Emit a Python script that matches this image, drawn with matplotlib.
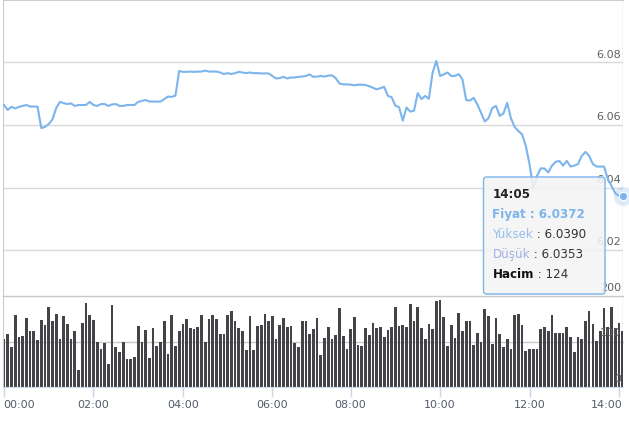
import numpy as np
import pandas as pd
import matplotlib
matplotlib.use("Agg")
import matplotlib.pyplot as plt
import matplotlib.transforms as mtransforms
from matplotlib.patches import FancyBboxPatch

plt.rcParams['font.family'] = ['DejaVu Sans']

#======data (5 min bars, 07:00-07:10 missing)=========#
times = pd.date_range("2019-01-01 00:00", "2019-01-01 14:05", freq="5min")
times = times[~((times >= "2019-01-01 07:00") & (times <= "2019-01-01 07:10"))]
time_labels = [t.strftime("%H:%M") for t in times]

price = [6.0664, 6.0648, 6.0658, 6.0653, 6.0658, 6.0661, 6.0664, 6.0659, 6.0659, 6.0659,
         6.0590, 6.0594, 6.0603, 6.0618, 6.0654, 6.0674, 6.0670, 6.0667, 6.0669, 6.0661,
         6.0664, 6.0664, 6.0664, 6.0674, 6.0664, 6.0661, 6.0667, 6.0667, 6.0661, 6.0666,
         6.0667, 6.0661, 6.0661, 6.0664, 6.0664, 6.0664, 6.0674, 6.0677, 6.0680, 6.0675,
         6.0675, 6.0675, 6.0675, 6.0683, 6.0691, 6.0690, 6.0694, 6.0773, 6.0770, 6.0770,
         6.0771, 6.0770, 6.0771, 6.0771, 6.0774, 6.0771, 6.0771, 6.0771, 6.0768, 6.0763,
         6.0766, 6.0763, 6.0766, 6.0770, 6.0768, 6.0766, 6.0768, 6.0766, 6.0766, 6.0765,
         6.0765, 6.0765, 6.0757, 6.0749, 6.0750, 6.0754, 6.0749, 6.0752, 6.0752, 6.0754,
         6.0755, 6.0757, 6.0762, 6.0754, 6.0755, 6.0757, 6.0755, 6.0758, 6.0759, 6.0750,
         6.0733, 6.0730, 6.0730, 6.0729, 6.0727, 6.0729, 6.0729, 6.0728, 6.0724, 6.0719,
         6.0714, 6.0718, 6.0722, 6.0693, 6.0689, 6.0662, 6.0657, 6.0614, 6.0656, 6.0643,
         6.0646, 6.0702, 6.0683, 6.0693, 6.0684, 6.0768, 6.0805, 6.0757, 6.0762, 6.0768,
         6.0757, 6.0757, 6.0763, 6.0746, 6.0680, 6.0678, 6.0687, 6.0666, 6.0639, 6.0611,
         6.0622, 6.0654, 6.0661, 6.0629, 6.0637, 6.0671, 6.0622, 6.0594, 6.0581, 6.0570,
         6.0533, 6.0475, 6.0398, 6.0437, 6.0461, 6.0461, 6.0448, 6.0469, 6.0482, 6.0485,
         6.0470, 6.0485, 6.0467, 6.0470, 6.0475, 6.0501, 6.0514, 6.0501, 6.0475, 6.0467,
         6.0467, 6.0467, 6.0427, 6.0405, 6.0382, 6.0373, 6.0372]

volume = [105, 117, 88, 158, 110, 113, 151, 122, 122, 103,
          147, 136, 175, 144, 161, 105, 156, 139, 105, 122,
          37, 141, 185, 158, 147, 100, 83, 97, 50, 180,
          88, 76, 100, 62, 62, 66, 134, 100, 125, 64,
          129, 90, 100, 144, 72, 158, 90, 122, 139, 149,
          129, 127, 132, 158, 100, 149, 158, 149, 117, 117,
          158, 168, 144, 129, 122, 81, 156, 81, 134, 136,
          161, 144, 156, 105, 136, 151, 131, 134, 97, 88,
          144, 146, 117, 127, 151, 71, 108, 131, 105, 115,
          173, 112, 83, 127, 153, 92, 90, 129, 114, 141,
          129, 131, 110, 125, 131, 175, 134, 136, 131, 182,
          146, 175, 129, 105, 139, 127, 190, 192, 153, 90,
          136, 107, 163, 122, 144, 144, 92, 119, 100, 171,
          156, 95, 151, 117, 87, 105, 83, 158, 160, 136,
          80, 83, 83, 83, 127, 131, 122, 158, 119, 119,
          119, 131, 110, 78, 110, 105, 146, 168, 138, 102,
          124, 173, 131, 175, 129, 141, 124]

price_ticks = [6.02, 6.04, 6.06, 6.08]
volume_ticks = [0, 100, 200]
hover = {"time": "14:05", "Fiyat": "6.0372", "Yüksek": "6.0390", "Düşük": "6.0353", "Hacim": "124"}

#======figure=========#
W, H = 629, 428
fig = plt.figure(figsize=(W / 100, H / 100), dpi=100)
line_c = '#7cb5ec'
grid_c = '#d8d8d8'
lab_c = '#606060'

idx = np.arange(len(price))
xmin, xmax = -0.268, len(price) - 1 + 0.08

axp = fig.add_axes([3 / W, (H - 296) / H, 620 / W, 296 / H])
axv = fig.add_axes([3 / W, (H - 387) / H, 620 / W, 91 / H])

# price panel
axp.plot(idx, price, color=line_c, lw=1.5, solid_joinstyle='round', zorder=3)
axp.set_xlim(xmin, xmax)
axp.set_ylim(6.00528, 6.10)
for v in price_ticks:
    axp.axhline(v, color=grid_c, lw=1, zorder=1)
    axp.annotate(f"{v:.2f}", xy=(1, v), xycoords=('axes fraction', 'data'),
                 xytext=(-1.5, 2), textcoords='offset points', ha='right', va='bottom',
                 fontsize=8, color=lab_c, zorder=2)
axp.set_xticks([])
axp.set_yticks([])
for s in ['right', 'bottom']:
    axp.spines[s].set_visible(False)
for s in ['left', 'top']:
    axp.spines[s].set_color('#cccccc')
axp.patch.set_alpha(0)

# volume panel
axv.bar(idx, volume, width=0.72, color='#434348', zorder=2)
axv.set_xlim(xmin, xmax)
axv.set_ylim(0, 200)
for v in volume_ticks[1:]:
    axv.axhline(v, color='#c8c8c8', lw=1, zorder=1, clip_on=False)
for v in volume_ticks:
    axv.annotate(str(v), xy=(1, v), xycoords=('axes fraction', 'data'),
                 xytext=(-1.5, 2.5), textcoords='offset points', ha='right', va='bottom',
                 fontsize=8, color=lab_c, zorder=4)
tick_pos = [i for i, t in enumerate(time_labels) if t.endswith(":00") and int(t[:2]) % 2 == 0]
axv.set_xticks(tick_pos)
axv.set_xticklabels([time_labels[i] for i in tick_pos], fontsize=8, color='#555d6b')
axv.tick_params(axis='x', length=7, width=1, color='#ccd6eb', pad=2.5)
tl = axv.get_xticklabels()
tl[0].set_ha('left')
tl[0].set_transform(tl[0].get_transform() + mtransforms.ScaledTranslation(-1 / 100, 0, fig.dpi_scale_trans))
tl[-1].set_ha('right')
tl[-1].set_transform(tl[-1].get_transform() + mtransforms.ScaledTranslation(4 / 100, 0, fig.dpi_scale_trans))
axv.set_yticks([])
for s in ['right', 'top']:
    axv.spines[s].set_visible(False)
axv.spines['left'].set_color('#cccccc')
axv.spines['bottom'].set_color('#ccd6eb')
axv.patch.set_alpha(0)

# crosshair and hovered point
last = len(price) - 1
axp.axvline(last, color='#cccccc', lw=1, zorder=1)
axv.axvline(last, color='#cccccc', lw=1, zorder=1)
axp.plot([last], [price[-1]], 'o', ms=14, color=line_c, alpha=0.25, mec='none', clip_on=False, zorder=4)
axp.plot([last], [price[-1]], 'o', ms=6, color=line_c, mec='white', mew=0.8, clip_on=False, zorder=5)

# tooltip (overlay in pixel coordinates)
ov = fig.add_axes([0, 0, 1, 1])
ov.set_xlim(0, W)
ov.set_ylim(H, 0)
ov.axis('off')
x0, y0, x1, y1 = 483.5, 177, 605, 294
ov.add_patch(FancyBboxPatch((x0 + 1, y0 + 1), x1 - x0, y1 - y0, boxstyle="round,pad=0,rounding_size=3",
                            fc='black', ec='none', alpha=0.06, zorder=5))
ov.add_patch(FancyBboxPatch((x0, y0), x1 - x0, y1 - y0, boxstyle="round,pad=0,rounding_size=3",
                            fc=(0.97, 0.97, 0.97, 0.85), ec=line_c, lw=1, zorder=6))

r = fig.canvas.get_renderer()
fs = 8.6


def segs(x, y, parts):
    for txt, col, wt in parts:
        t = ov.text(x, y, txt, color=col, fontsize=fs, fontweight=wt, va='center', ha='left', zorder=7)
        bb = t.get_window_extent(r)
        x = ov.transData.inverted().transform((bb.x1, 0))[0]


tx = 492.5
segs(tx, 194.5, [(hover["time"], '#222222', 'bold')])
segs(tx, 214.5, [("Fiyat : " + hover["Fiyat"], line_c, 'bold')])
segs(tx, 234.5, [("Yüksek", '#95c0ec', 'normal'), (" : " + hover["Yüksek"], '#333333', 'normal')])
segs(tx, 254.5, [("Düşük", '#a3b0e6', 'normal'), (" : " + hover["Düşük"], '#333333', 'normal')])
segs(tx, 274.5, [("Hacim", '#111111', 'bold'), (" : " + hover["Hacim"], '#333333', 'normal')])

fig.savefig("out.png", dpi=100)
